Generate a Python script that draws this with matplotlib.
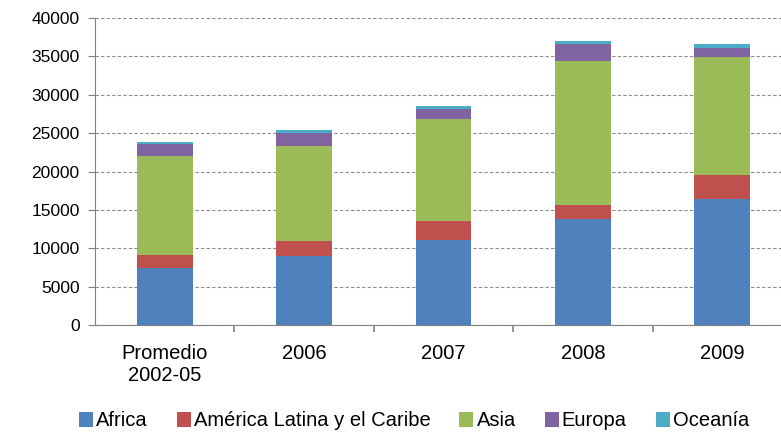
import numpy as np
import matplotlib.pyplot as plt

categories = ["Promedio\n2002-05", "2006", "2007", "2008", "2009"]
regions = ["Africa", "América Latina y el Caribe", "Asia", "Europa", "Oceanía"]
africa = [7470, 9030, 11120, 13810, 16420]
america = [1650, 1910, 2430, 1830, 3120]
asia = [12940, 12380, 13290, 18760, 15380]
europa = [1520, 1740, 1300, 2200, 1170]
oceania = [260, 340, 390, 400, 510]
colors = ["#4F81BD", "#C0504D", "#9BBB59", "#8064A2", "#4BACC6"]

plt.rcParams['font.family'] = ['Liberation Sans', 'DejaVu Sans']

fig = plt.figure(figsize=(7.81, 4.33), dpi=100)
# plot area is cropped on the right in the reference
ax = fig.add_axes([95/781, 1 - 325/433, 697/781, 307/433])

x = np.arange(len(categories))
bottom = np.zeros(len(categories))
series = [africa, america, asia, europa, oceania]
for vals, lab, col in zip(series, regions, colors):
    ax.bar(x, vals, 0.4, bottom=bottom, color=col, label=lab, zorder=3)
    bottom += np.array(vals)

ax.set_xlim(-0.5, len(categories) - 0.5)
ax.set_ylim(0, 40000)
ax.set_yticks(range(0, 40001, 5000))
ax.yaxis.grid(True, linestyle=(0, (3, 2)), color="#8c8c8c", linewidth=0.8, zorder=0)
ax.tick_params(axis='y', labelsize=12.5, length=5, color="#808080", pad=6)

ax.set_xticks(x)
ax.set_xticklabels(categories, fontsize=14.5)
ax.set_xticks(np.arange(0.5, len(categories) - 0.5, 1), minor=True)
ax.tick_params(axis='x', which='major', length=0, pad=14)
ax.tick_params(axis='x', which='minor', length=5, color="#808080", width=1.2)

for s in ['top', 'right']:
    ax.spines[s].set_visible(False)
for s in ['left', 'bottom']:
    ax.spines[s].set_color("#808080")

handles, labels = ax.get_legend_handles_labels()
fig.legend(handles, labels, loc='center', bbox_to_anchor=(414/781, 1 - 421/433), ncol=5,
           frameon=False, fontsize=14.5, handlelength=0.7, handleheight=0.7,
           handletextpad=0.15, columnspacing=1.44, borderpad=0.2)

fig.savefig("out.png", dpi=100)
